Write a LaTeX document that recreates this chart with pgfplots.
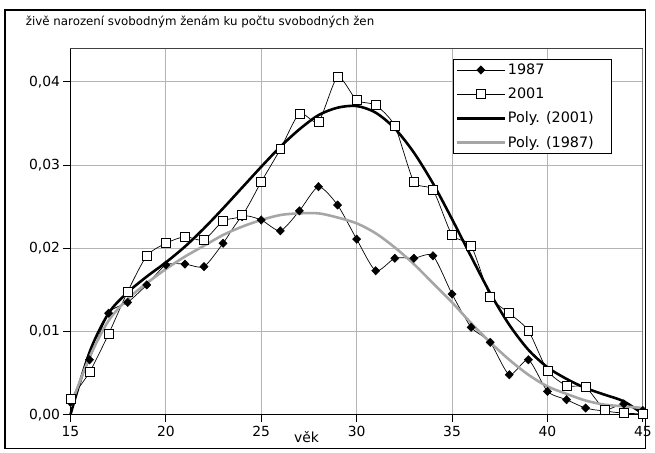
\documentclass[border=0pt]{standalone}
\usepackage{pgfplots}
\usepackage{pgfplotstable}
\pgfplotsset{compat=1.18}
\usepackage{fontspec}
\setmainfont{DejaVu Sans}
\definecolor{gridgray}{HTML}{B4B4B4}
\definecolor{polygray}{HTML}{A6A6A6}

\pgfplotstableread{
age a87 a01
15 0.0015 0.0019
16 0.0066 0.0051
17 0.0122 0.0097
18 0.0135 0.0148
19 0.0156 0.0191
20 0.0180 0.0206
21 0.0181 0.0214
22 0.0178 0.0210
23 0.0206 0.0233
24 0.0238 0.0240
25 0.0234 0.0280
26 0.0221 0.0319
27 0.0245 0.0362
28 0.0274 0.0352
29 0.0252 0.0406
30 0.0211 0.0378
31 0.0173 0.0372
32 0.0188 0.0347
33 0.0188 0.0280
34 0.0191 0.0270
35 0.0145 0.0216
36 0.0105 0.0203
37 0.0087 0.0142
38 0.0048 0.0122
39 0.0066 0.0101
40 0.0028 0.0053
41 0.0018 0.0035
42 0.0008 0.0033
43 0.0005 0.0006
44 0.0013 0.0002
45 0.0005 0.0001
}\datatab

\pgfplotstableread{
age p01 p87
15 0.0000 0.0010
16 0.0075 0.0069
17 0.0122 0.0113
18 0.0147 0.0139
19 0.0166 0.0158
20 0.0183 0.0175
21 0.0202 0.0190
22 0.0224 0.0203
23 0.0248 0.0216
24 0.0273 0.0226
25 0.0298 0.0234
26 0.0322 0.0240
27 0.0343 0.0242
28 0.0360 0.0242
29 0.0369 0.0237
30 0.0371 0.0230
31 0.0363 0.0218
32 0.0344 0.0201
33 0.0315 0.0181
34 0.0278 0.0158
35 0.0235 0.0135
36 0.0190 0.0110
37 0.0146 0.0087
38 0.0108 0.0066
39 0.0078 0.0048
40 0.0057 0.0034
41 0.0043 0.0025
42 0.0032 0.0017
43 0.0024 0.0012
44 0.0016 0.0010
45 0.0001 0.0008
}\polytab

\begin{document}
\begin{tikzpicture}[x=1pt,y=1pt]
\path (0,0) rectangle (655,456);
\draw[line width=1.2pt] (5,4) rectangle (651,446);
\node[anchor=west, inner sep=0pt, font=\fontsize{11.9}{14}\selectfont] at (26,434) {živě narození svobodným ženám ku počtu svobodných žen};
\node[anchor=base, inner sep=0pt, font=\fontsize{14}{16}\selectfont] at (309,10) {věk};
\begin{axis}[
  at={(71pt,38pt)}, anchor=south west,
  scale only axis, width=577pt, height=369pt,
  xmin=15, xmax=45, ymin=0, ymax=0.044,
  xtick={15,20,...,45},
  ytick={0,0.01,0.02,0.03,0.04},
  scaled y ticks=false,
  clip=false,
  axis x line*=bottom, axis y line*=left,
  axis line style={black, line width=1pt, -},
  tick align=outside,
  major tick length=7pt,
  tick style={black, line width=0.8pt},
  grid=major,
  major grid style={gridgray, line width=1pt},
  tick label style={font=\fontsize{14}{16}\selectfont},
  /pgf/number format/assume math mode=true,
  yticklabel style={/pgf/number format/.cd, fixed, fixed zerofill, precision=2, use comma},
  xticklabel style={yshift=-1pt},
  legend cell align=left,
  legend style={at={(rel axis cs:0.9463,0.9729)}, anchor=north east,
    draw=black, line width=0.8pt, font=\fontsize{14.5}{17}\selectfont,
    inner xsep=2pt, inner ysep=3pt, row sep=8pt},
  legend image code/.code={\draw[#1, mark repeat=2, mark phase=2] plot coordinates {(0pt,0pt) (24pt,0pt) (48pt,0pt)};},
]
\draw[draw=black!75, line width=1pt] (rel axis cs:0,1) -- (rel axis cs:1,1);
\draw[draw=black!50, line width=1pt] (rel axis cs:1,1) -- (rel axis cs:1,0);
\addplot[black, line width=0.7pt, smooth, tension=0.4, mark=diamond*, mark size=4.2pt,
  mark options={xscale=1.3, solid, fill=black, line width=0.5pt}] table[x=age, y=a87] {\datatab};
\addlegendentry{1987}
\addplot[black, line width=0.7pt, smooth, tension=0.4, mark=square*, mark size=4.5pt,
  mark options={solid, fill=white, draw=black, line width=0.7pt}] table[x=age, y=a01] {\datatab};
\addlegendentry{2001}
\addplot[black, line width=2.6pt, smooth, no markers] table[x=age, y=p01] {\polytab};
\addlegendentry{Poly. (2001)\hspace*{14pt}}
\addplot[polygray, line width=2.6pt, smooth, no markers] table[x=age, y=p87] {\polytab};
\addlegendentry{Poly. (1987)\hspace*{14pt}}
\end{axis}
\end{tikzpicture}
\end{document}
